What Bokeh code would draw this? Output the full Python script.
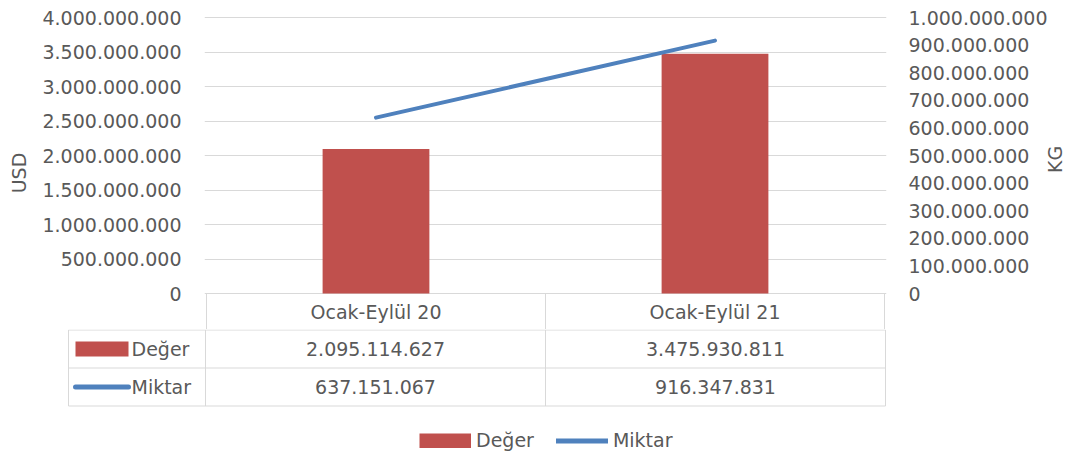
import math
from bokeh.plotting import figure
from bokeh.models import (Range1d, FactorRange, LinearAxis, FixedTicker,
                          CustomJSTickFormatter, Legend, LegendItem)
from bokeh.embed import file_html
from bokeh.resources import INLINE
from bokeh.core.properties import value

# ---------------- data ----------------
categories = ["Ocak-Eylül 20", "Ocak-Eylül 21"]
deger_usd = [2095114627, 3475930811]
miktar_kg = [637151067, 916347831]
series_names = ["Değer", "Miktar"]
left_axis_title = "USD"
right_axis_title = "KG"
left_max, left_step = 4_000_000_000, 500_000_000
right_max, right_step = 1_000_000_000, 100_000_000

# ---------------- style ----------------
FONT = "DejaVu Sans"
FS = "19px"
TXT = "#595959"
GRID = "#D9D9D9"
RED = "#C0504D"
BLUE = "#4F81BD"

W = 1083
X0 = 205          # canvas x of category start
CAT_PX = 340      # px per category
n = len(categories)
XR = X0 + n * CAT_PX + 1   # right edge of frames

FR_TOP = 16       # chart frame top (canvas y)
ZERO_Y = 293      # canvas y of value 0
CH_H = 329        # chart canvas height (bottom of header row)
PX_PER_FULL = 276 # px from 0 to axis max


def tr(v):
    return f"{v:,}".replace(",", ".")


fmt_code = r"return Math.round(tick).toString().replace(/\B(?=(\d{3})+(?!\d))/g, '.');"

lo = -(CH_H - ZERO_Y) / PX_PER_FULL
hi = (ZERO_Y - FR_TOP) / PX_PER_FULL

# ---------------- chart ----------------
p = figure(width=W, height=CH_H,
           x_range=FactorRange(*categories, range_padding=2 / CAT_PX,
                               range_padding_units="absolute"),
           y_range=Range1d(left_max * lo, left_max * hi),
           x_axis_location=None, output_backend="svg", toolbar_location=None,
           min_border_left=X0 - 1, min_border_right=W - XR,
           min_border_top=FR_TOP, min_border_bottom=0)
p.extra_y_ranges = {"kg": Range1d(right_max * lo, right_max * hi),
                    "tbl": Range1d(1, 1 - (CH_H - FR_TOP) / (CH_H - ZERO_Y))}
p.outline_line_color = None

lt = FixedTicker(ticks=list(range(0, left_max + 1, left_step)))
rt = FixedTicker(ticks=list(range(0, right_max + 1, right_step)))

ya = p.yaxis[0]
ya.ticker = lt
ya.formatter = CustomJSTickFormatter(code=fmt_code)
ya.axis_label = left_axis_title

ra = LinearAxis(y_range_name="kg", ticker=rt,
                formatter=CustomJSTickFormatter(code=fmt_code),
                axis_label=right_axis_title)
p.add_layout(ra, "right")

for ax in (ya, ra):
    ax.axis_line_color = None
    ax.major_tick_line_color = None
    ax.minor_tick_line_color = None
    ax.major_tick_out = 0
    ax.major_tick_in = 0
    ax.major_label_standoff = 23
    ax.major_label_text_font = FONT
    ax.major_label_text_font_size = FS
    ax.major_label_text_color = TXT
    ax.axis_label_text_font = FONT
    ax.axis_label_text_font_size = FS
    ax.axis_label_text_color = TXT
    ax.axis_label_text_font_style = "normal"
ya.axis_label_standoff = 9
ra.major_label_standoff = 22
ra.axis_label_standoff = 4
if "axis_label_orientation" in ra.properties():
    ra.axis_label_orientation = math.pi / 2

p.xgrid.visible = False
p.ygrid.ticker = lt
p.ygrid.grid_line_color = GRID
p.ygrid.grid_line_width = 1

p.vbar(x=categories, top=deger_usd, width=0.315, fill_color=RED, line_color=None)
p.line(x=categories, y=miktar_kg, y_range_name="kg", line_color=BLUE,
       line_width=4, line_cap="round")

# header row of the data table (below the zero line)
p.segment(x0=list(range(n + 1)), y0=[0] * (n + 1), x1=list(range(n + 1)),
          y1=[1] * (n + 1), y_range_name="tbl", line_color=GRID, line_width=1)
p.text(x=categories, y=[0.5] * n, text=categories, y_range_name="tbl",
       text_font=value(FONT), text_font_size=FS, text_color=TXT,
       text_align="center", text_baseline="middle")

# ---------------- data table body ----------------
TL = 67
T_H = 124
ROW_PX = 38
t = figure(width=W, height=T_H,
           x_range=Range1d(-(X0 - TL) / CAT_PX, n + (XR - X0 - n * CAT_PX) / CAT_PX),
           y_range=Range1d(1 - 0.5 / ROW_PX + T_H / ROW_PX, 1 - 0.5 / ROW_PX),
           x_axis_location=None, y_axis_location=None,
           output_backend="svg", toolbar_location=None,
           min_border_left=TL, min_border_right=W - XR,
           min_border_top=0, min_border_bottom=0)
t.outline_line_color = None
t.xgrid.visible = False
t.ygrid.visible = False

xL = -(X0 - 68) / CAT_PX
t.segment(x0=[xL] * 3, y0=[1, 2, 3], x1=[n] * 3, y1=[1, 2, 3],
          line_color=GRID, line_width=1)
vx = [xL] + list(range(n + 1))
t.segment(x0=vx, y0=[1] * len(vx), x1=vx, y1=[3] * len(vx),
          line_color=GRID, line_width=1)

cx = [i + 0.5 for i in range(n)]
tf = dict(text_font=value(FONT), text_font_size=FS, text_color=TXT,
          text_align="center", text_baseline="middle")
t.text(x=cx, y=[1.5] * n, text=[tr(v) for v in deger_usd], **tf)
t.text(x=cx, y=[2.5] * n, text=[tr(v) for v in miktar_kg], **tf)

sx0 = (75 - X0) / CAT_PX
sx1 = (128 - X0) / CAT_PX
lx = (131 - X0) / CAT_PX
sw_red = t.segment(x0=[sx0], y0=[1.5], x1=[sx1], y1=[1.5], line_color=RED,
                   line_width=15, line_cap="butt")
sw_blue = t.segment(x0=[sx0], y0=[2.5], x1=[sx1], y1=[2.5], line_color=BLUE,
                    line_width=5, line_cap="round")
t.text(x=[lx, lx], y=[1.5, 2.5], text=series_names, text_font=value(FONT),
       text_font_size=FS, text_color=TXT, text_align="left", text_baseline="middle")

legend = Legend(items=[LegendItem(label=series_names[0], renderers=[sw_red]),
                       LegendItem(label=series_names[1], renderers=[sw_blue])],
                orientation="horizontal", location=(419 - TL, 2),
                glyph_width=52, glyph_height=15, label_standoff=5, spacing=22,
                padding=0, margin=0, border_line_color=None,
                background_fill_alpha=0, label_text_font=FONT,
                label_text_font_size=FS, label_text_color=TXT)
t.add_layout(legend)

open("out.html", "w").write(file_html([p, t], INLINE))
